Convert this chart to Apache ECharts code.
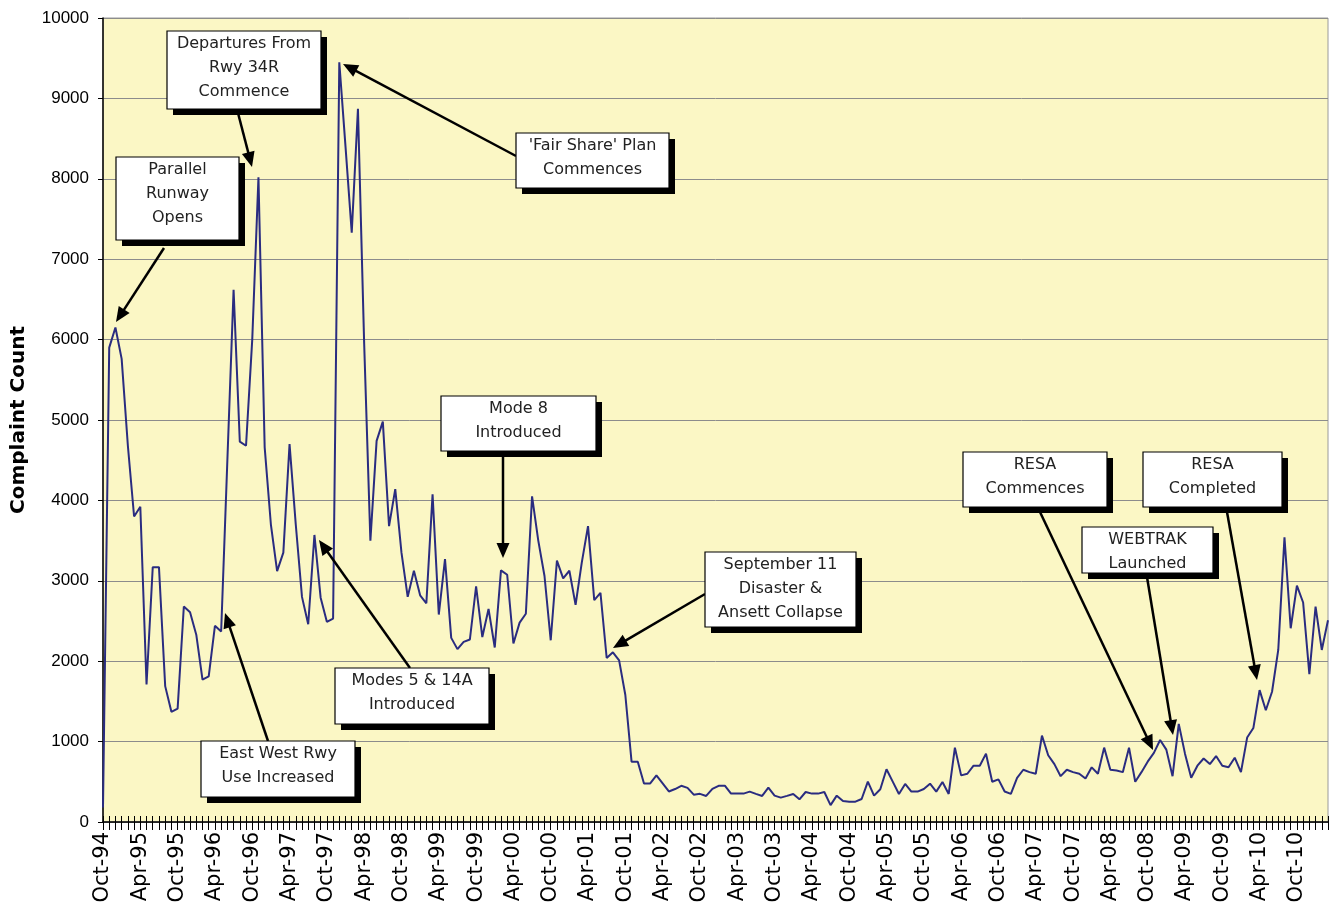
<!DOCTYPE html>
<html>
<head>
<meta charset="utf-8">
<script src="https://cdn.jsdelivr.net/npm/echarts@6/dist/echarts.min.js"></script>
<style>
html,body{margin:0;padding:0;background:#fff;}
#chart{width:1333px;height:911px;}
</style>
</head>
<body>
<div id="chart"></div>
<script>
// ---- DATA ----
const startYear = 1994;       // first month: Oct-94
const startMonth = 9;         // 0-based (Oct)
const monthNames = ['Jan','Feb','Mar','Apr','May','Jun','Jul','Aug','Sep','Oct','Nov','Dec'];

const complaints = [
  180, 5900, 6150, 5760, 4680, 3800, 3920, 1710, 3170, 3170,
  1690, 1370, 1410, 2680, 2610, 2330, 1770, 1810, 2440, 2370,
  4500, 6620, 4730, 4680, 6000, 8020, 4660, 3700, 3120, 3350,
  4700, 3700, 2800, 2460, 3570, 2790, 2490, 2530, 9450, 8400,
  7330, 8870, 5950, 3500, 4740, 4980, 3680, 4140, 3350, 2800,
  3125, 2820, 2720, 4075, 2580, 3270, 2290, 2150, 2240, 2270,
  2930, 2300, 2650, 2170, 3130, 3075, 2220, 2480, 2590, 4050,
  3500, 3060, 2260, 3250, 3030, 3125, 2700, 3230, 3680, 2760,
  2850, 2040, 2110, 2010, 1580, 750, 750, 480, 480, 580,
  480, 380, 410, 450, 425, 340, 350, 324, 411, 450,
  452, 353, 353, 353, 378, 350, 324, 427, 328, 303,
  325, 349, 282, 373, 353, 353, 373, 210, 328, 260,
  253, 253, 286, 502, 328, 407, 656, 502, 349, 473,
  378, 378, 411, 477, 378, 498, 349, 925, 580, 600,
  700, 700, 850, 500, 530, 380, 350, 550, 650, 620,
  600, 1075, 830, 720, 570, 650, 620, 600, 540, 680,
  600, 925, 650, 640, 620, 925, 500, 620, 750, 860,
  1020, 900, 570, 1220, 850, 550, 700, 790, 720, 820,
  700, 680, 800, 620, 1050, 1170, 1640, 1390, 1620, 2140,
  3540, 2410, 2940, 2730, 1840, 2680, 2140, 2510
];

const yTicks = [0, 1000, 2000, 3000, 4000, 5000, 6000, 7000, 8000, 9000, 10000];

const categories = [];
for (let i = 0; i < complaints.length; i++) {
  const m = (startMonth + i) % 12;
  const y = startYear + Math.floor((startMonth + i) / 12);
  categories.push(monthNames[m] + '-' + String(y % 100).padStart(2, '0'));
}

// ---- ANNOTATIONS (layout, pixels) ----
const annotations = [
  {text: 'Departures From\nRwy 34R\nCommence', box: [167, 31, 321, 109], tail: [238, 113], tip: [252, 167]},
  {text: 'Parallel\nRunway\nOpens', box: [116, 157, 239, 240], tail: [164, 248], tip: [116, 322]},
  {text: "'Fair Share' Plan\nCommences", box: [516, 133, 669, 188], tail: [516, 156], tip: [343, 64]},
  {text: 'Mode 8\nIntroduced', box: [441, 396, 596, 451], tail: [503, 455], tip: [503, 558]},
  {text: 'September 11\nDisaster &\nAnsett Collapse', box: [705, 552, 856, 627], tail: [705, 594], tip: [613, 648]},
  {text: 'Modes 5 & 14A\nIntroduced', box: [335, 668, 489, 724], tail: [410, 668], tip: [319, 540]},
  {text: 'East West Rwy\nUse Increased', box: [201, 741, 355, 797], tail: [268, 741], tip: [225, 613]},
  {text: 'RESA\nCommences', box: [963, 452, 1107, 507], tail: [1040, 512], tip: [1153, 750]},
  {text: 'RESA\nCompleted', box: [1143, 452, 1282, 507], tail: [1227, 512], tip: [1257, 680]},
  {text: 'WEBTRAK\nLaunched', box: [1082, 527, 1213, 573], tail: [1147, 577], tip: [1173, 735]}
];

function buildGraphics() {
  const els = [];
  annotations.forEach(a => {
    const [x1, y1, x2, y2] = a.box;
    const w = x2 - x1, h = y2 - y1;
    const dx = a.tip[0] - a.tail[0], dy = a.tip[1] - a.tail[1];
    const len = Math.sqrt(dx * dx + dy * dy);
    const ux = dx / len, uy = dy / len;
    const hl = 15, hw = 6.5;
    const bx = a.tip[0] - ux * hl, by = a.tip[1] - uy * hl;
    els.push({type: 'line', z: 100, shape: {x1: a.tail[0], y1: a.tail[1], x2: bx + ux * 2, y2: by + uy * 2},
      style: {stroke: '#000', lineWidth: 2.5}});
    els.push({type: 'polygon', z: 100, shape: {points: [
      [a.tip[0], a.tip[1]], [bx - uy * hw, by + ux * hw], [bx + uy * hw, by - ux * hw]
    ]}, style: {fill: '#000'}});
    els.push({type: 'rect', z: 101, shape: {x: x1 + 6, y: y1 + 6, width: w, height: h}, style: {fill: '#000'}});
    els.push({type: 'rect', z: 102, shape: {x: x1, y: y1, width: w, height: h},
      style: {fill: '#fff', stroke: '#000', lineWidth: 1.2}});
    els.push({type: 'text', z: 103, style: {
      text: a.text, x: x1 + w / 2, y: y1 + 1, align: 'center', verticalAlign: 'top',
      font: '16px "DejaVu Sans"', fill: '#222', lineHeight: 24
    }});
  });
  return els;
}

const chart = echarts.init(document.getElementById('chart'), null, {renderer: 'canvas'});
const gridPos = {left: 103, right: 5, top: 18, bottom: 89};

chart.setOption({
  backgroundColor: '#ffffff',
  animation: false,
  grid: Object.assign({show: true, backgroundColor: '#FBF7C5', borderColor: '#9a9a9a', borderWidth: 1,
    containLabel: false, outerBoundsMode: 'none'}, gridPos),
  xAxis: [{
    type: 'category',
    data: categories,
    boundaryGap: false,
    axisLine: {show: true, lineStyle: {color: '#000', width: 1.5}},
    axisTick: {show: true, interval: 0, length: 8, lineStyle: {color: '#000', width: 1}},
    axisLabel: {show: true, interval: 5, rotate: 90, margin: 10, color: '#000',
      fontFamily: 'DejaVu Sans', fontSize: 21},
    splitLine: {show: false}
  }, {
    type: 'category',
    data: categories,
    boundaryGap: false,
    position: 'bottom',
    axisLine: {show: false},
    axisTick: {show: true, inside: true, interval: 0, length: 6, lineStyle: {color: '#000', width: 1}},
    axisLabel: {show: false},
    splitLine: {show: false}
  }],
  yAxis: {
    type: 'value',
    min: yTicks[0],
    max: yTicks[yTicks.length - 1],
    interval: 1000,
    name: 'Complaint Count',
    nameLocation: 'middle',
    nameGap: 74,
    nameRotate: 90,
    nameTextStyle: {fontFamily: 'DejaVu Sans', fontWeight: 'bold', fontSize: 20, color: '#000'},
    axisLine: {show: true, lineStyle: {color: '#000', width: 1.5}},
    axisTick: {show: true, length: 5, lineStyle: {color: '#000'}},
    axisLabel: {margin: 14, color: '#000', fontFamily: 'Liberation Sans', fontSize: 17,
      formatter: v => String(v)},
    splitLine: {show: true, lineStyle: {color: '#8c8c8c', width: 1}}
  },
  series: [{
    type: 'line',
    data: complaints,
    xAxisIndex: 0,
    symbol: 'none',
    lineStyle: {color: '#2A2C80', width: 2},
    z: 10
  }],
  graphic: {elements: buildGraphics()}
});
</script>
</body>
</html>
